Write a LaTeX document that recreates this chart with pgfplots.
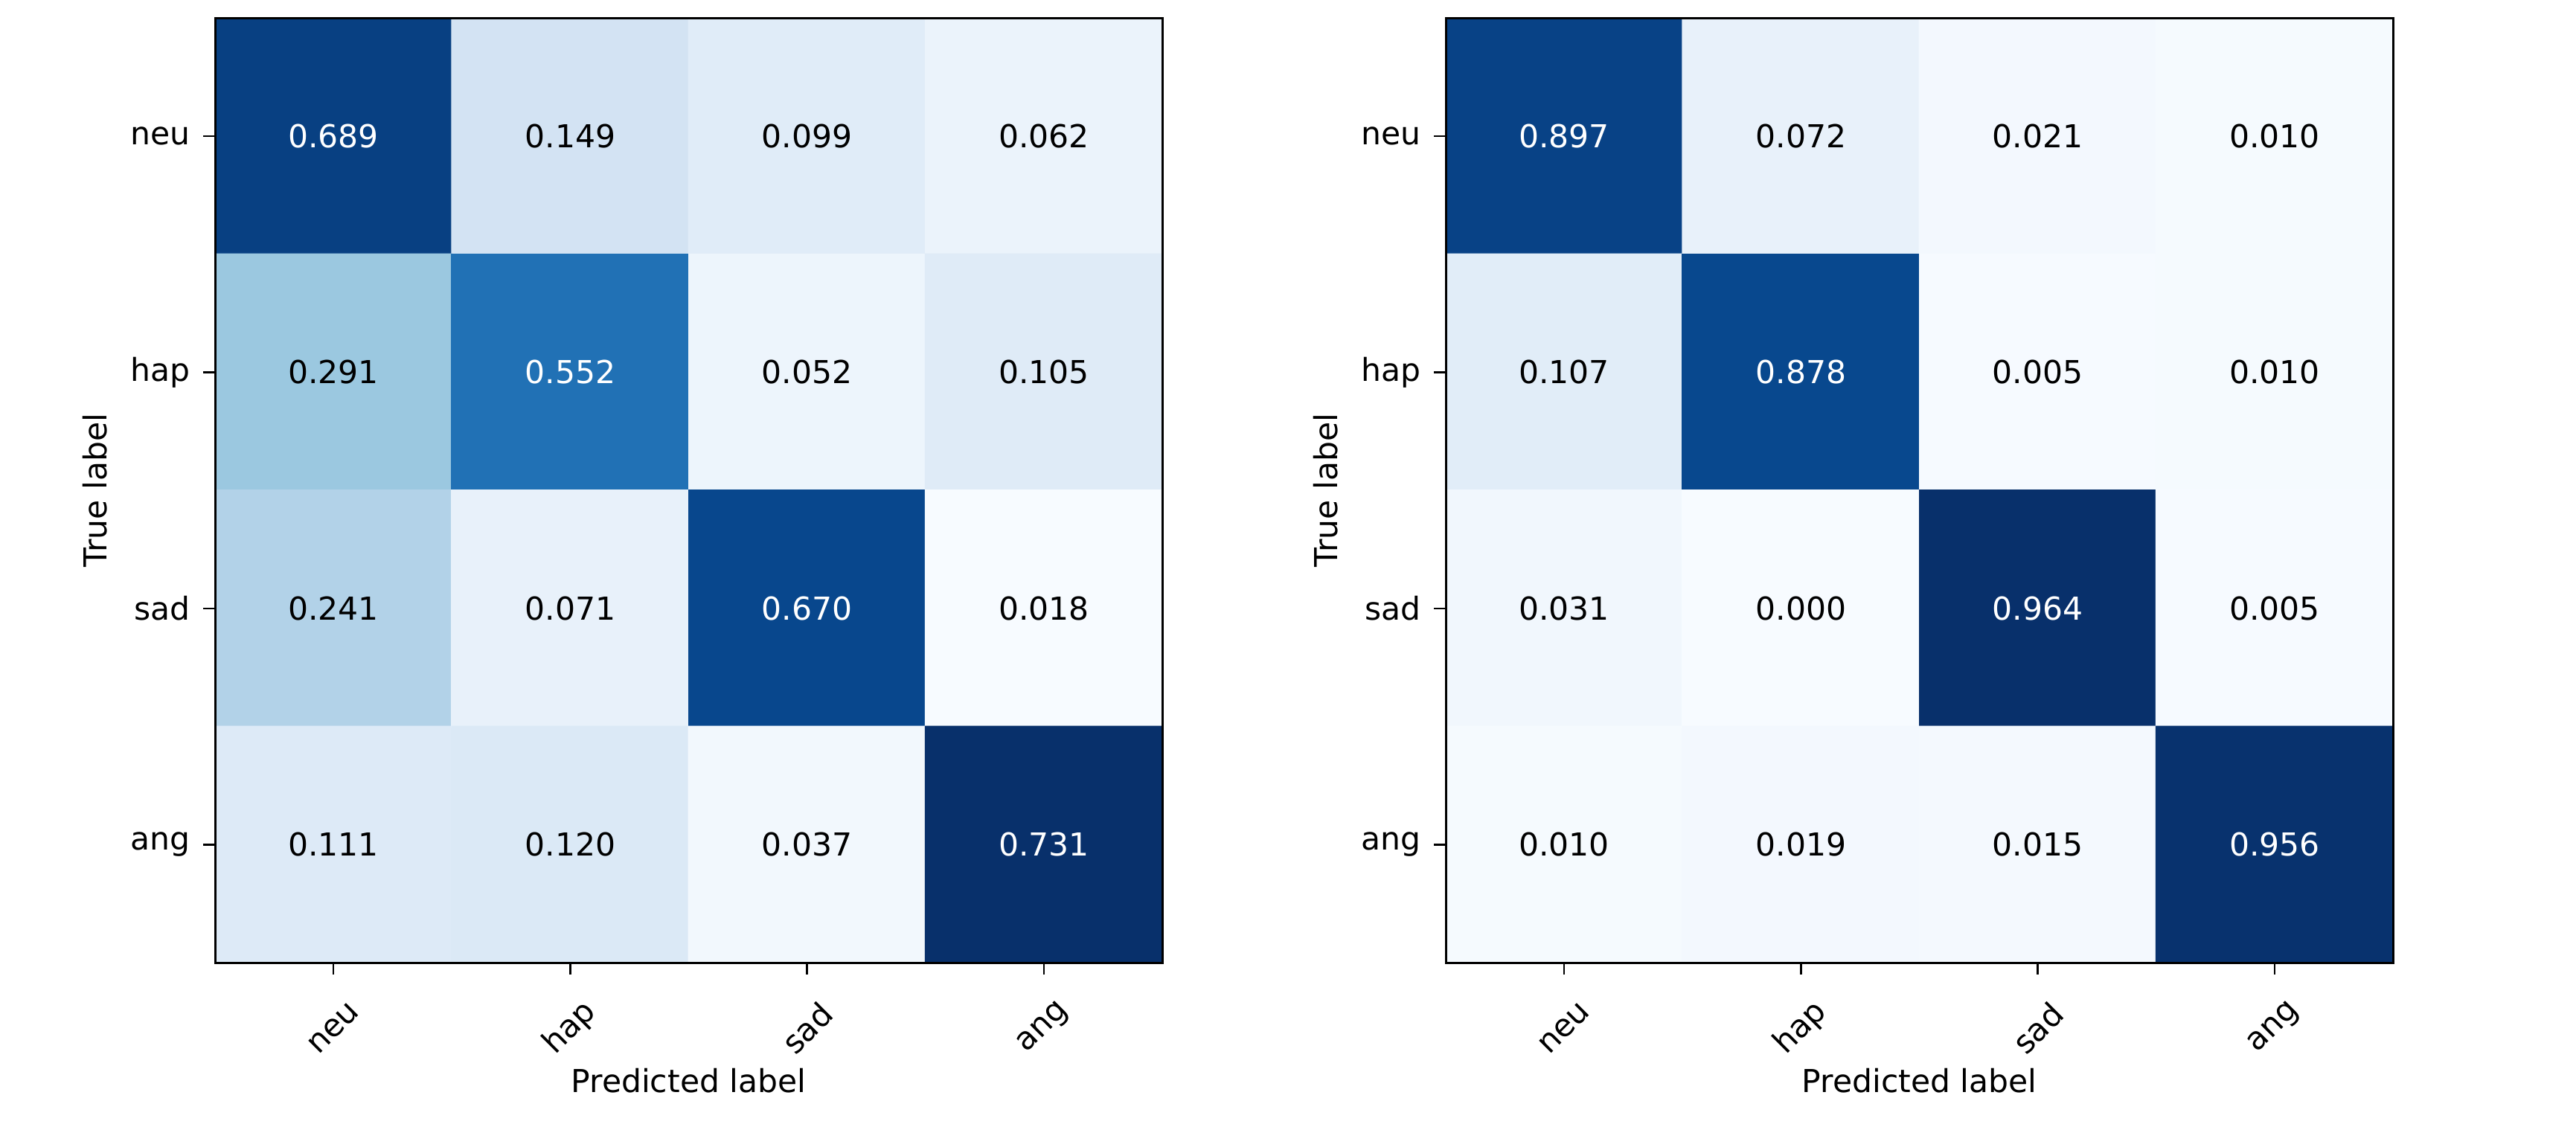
\documentclass[border=0pt]{standalone}
\usepackage{fontspec}
\setmainfont{DejaVu Sans}
\usepackage{pgfplots}
\usepackage{pgfplotstable}
\pgfplotsset{compat=1.18}

% rows: true label (neu, hap, sad, ang), columns: predicted label
\pgfplotstableread{
x y v
0 0 0.689
1 0 0.149
2 0 0.099
3 0 0.062
0 1 0.291
1 1 0.552
2 1 0.052
3 1 0.105
0 2 0.241
1 2 0.071
2 2 0.670
3 2 0.018
0 3 0.111
1 3 0.120
2 3 0.037
3 3 0.731
}\cmleft

\pgfplotstableread{
x y v
0 0 0.897
1 0 0.072
2 0 0.021
3 0 0.010
0 1 0.107
1 1 0.878
2 1 0.005
3 1 0.010
0 2 0.031
1 2 0.000
2 2 0.964
3 2 0.005
0 3 0.010
1 3 0.019
2 3 0.015
3 3 0.956
}\cmright

\pgfplotsset{
  cmstyle/.style={
    scale only axis,
    width=254.6pt, height=254pt,
    anchor=south west,
    axis on top,
    axis line style={line width=0.6pt},
    xmin=-0.5, xmax=3.5, ymin=-0.5, ymax=3.5,
    y dir=reverse,
    xtick={0,1,2,3}, ytick={0,1,2,3},
    xticklabels={neu,hap,sad,ang},
    yticklabels={neu,hap,sad,ang},
    tick pos=left,
    tick align=outside,
    major tick length=3.2pt,
    tick style={black, line width=0.5pt},
    every tick label/.append style={font=\fontsize{8.5}{10}\selectfont},
    xticklabel style={yshift=-14.4pt, rotate=45, anchor=center, inner sep=0pt},
    every axis x label/.style={at={(axis description cs:0.5,-0.125)}, anchor=center, inner sep=0pt, font=\fontsize{8.5}{10}\selectfont},
    every axis y label/.style={at={(axis description cs:-0.127,0.5)}, rotate=90, anchor=center, font=\fontsize{8.5}{10}\selectfont},
    xlabel={Predicted label},
    ylabel={True label},
    colormap={blues}{rgb255=(247,251,255) rgb255=(222,235,247) rgb255=(198,219,239)
      rgb255=(158,202,225) rgb255=(107,174,214) rgb255=(66,146,198)
      rgb255=(33,113,181) rgb255=(8,81,156) rgb255=(8,48,107)},
    /pgf/number format/assume math mode=true,
  },
  cells/.style={matrix plot*, mesh/cols=4, point meta=explicit},
  celltext/.style={only marks, mark=none, point meta=explicit,
    nodes near coords={\pgfmathprintnumber[fixed,fixed zerofill,precision=3]{\pgfplotspointmeta}},
    every node near coord/.append style={anchor=center, font=\fontsize{8.5}{10}\selectfont, text=#1}},
}

\begin{document}
\begin{tikzpicture}
\useasboundingbox (0,0) rectangle (692.4pt,303.6pt);

\begin{axis}[cmstyle, at={(57.8pt,44.8pt)}, point meta min=0.018, point meta max=0.731]
\addplot[cells] table[x=x, y=y, meta=v] {\cmleft};
\addplot[celltext=black, restrict expr to domain={\thisrow{v}}{0:0.3655}] table[x=x, y=y, meta=v] {\cmleft};
\addplot[celltext=white, restrict expr to domain={\thisrow{v}}{0.3656:1}] table[x=x, y=y, meta=v] {\cmleft};
\end{axis}

\begin{axis}[cmstyle, at={(388.6pt,44.8pt)}, point meta min=0, point meta max=0.964]
\addplot[cells] table[x=x, y=y, meta=v] {\cmright};
\addplot[celltext=black, restrict expr to domain={\thisrow{v}}{0:0.482}] table[x=x, y=y, meta=v] {\cmright};
\addplot[celltext=white, restrict expr to domain={\thisrow{v}}{0.4821:1}] table[x=x, y=y, meta=v] {\cmright};
\end{axis}
\end{tikzpicture}
\end{document}
